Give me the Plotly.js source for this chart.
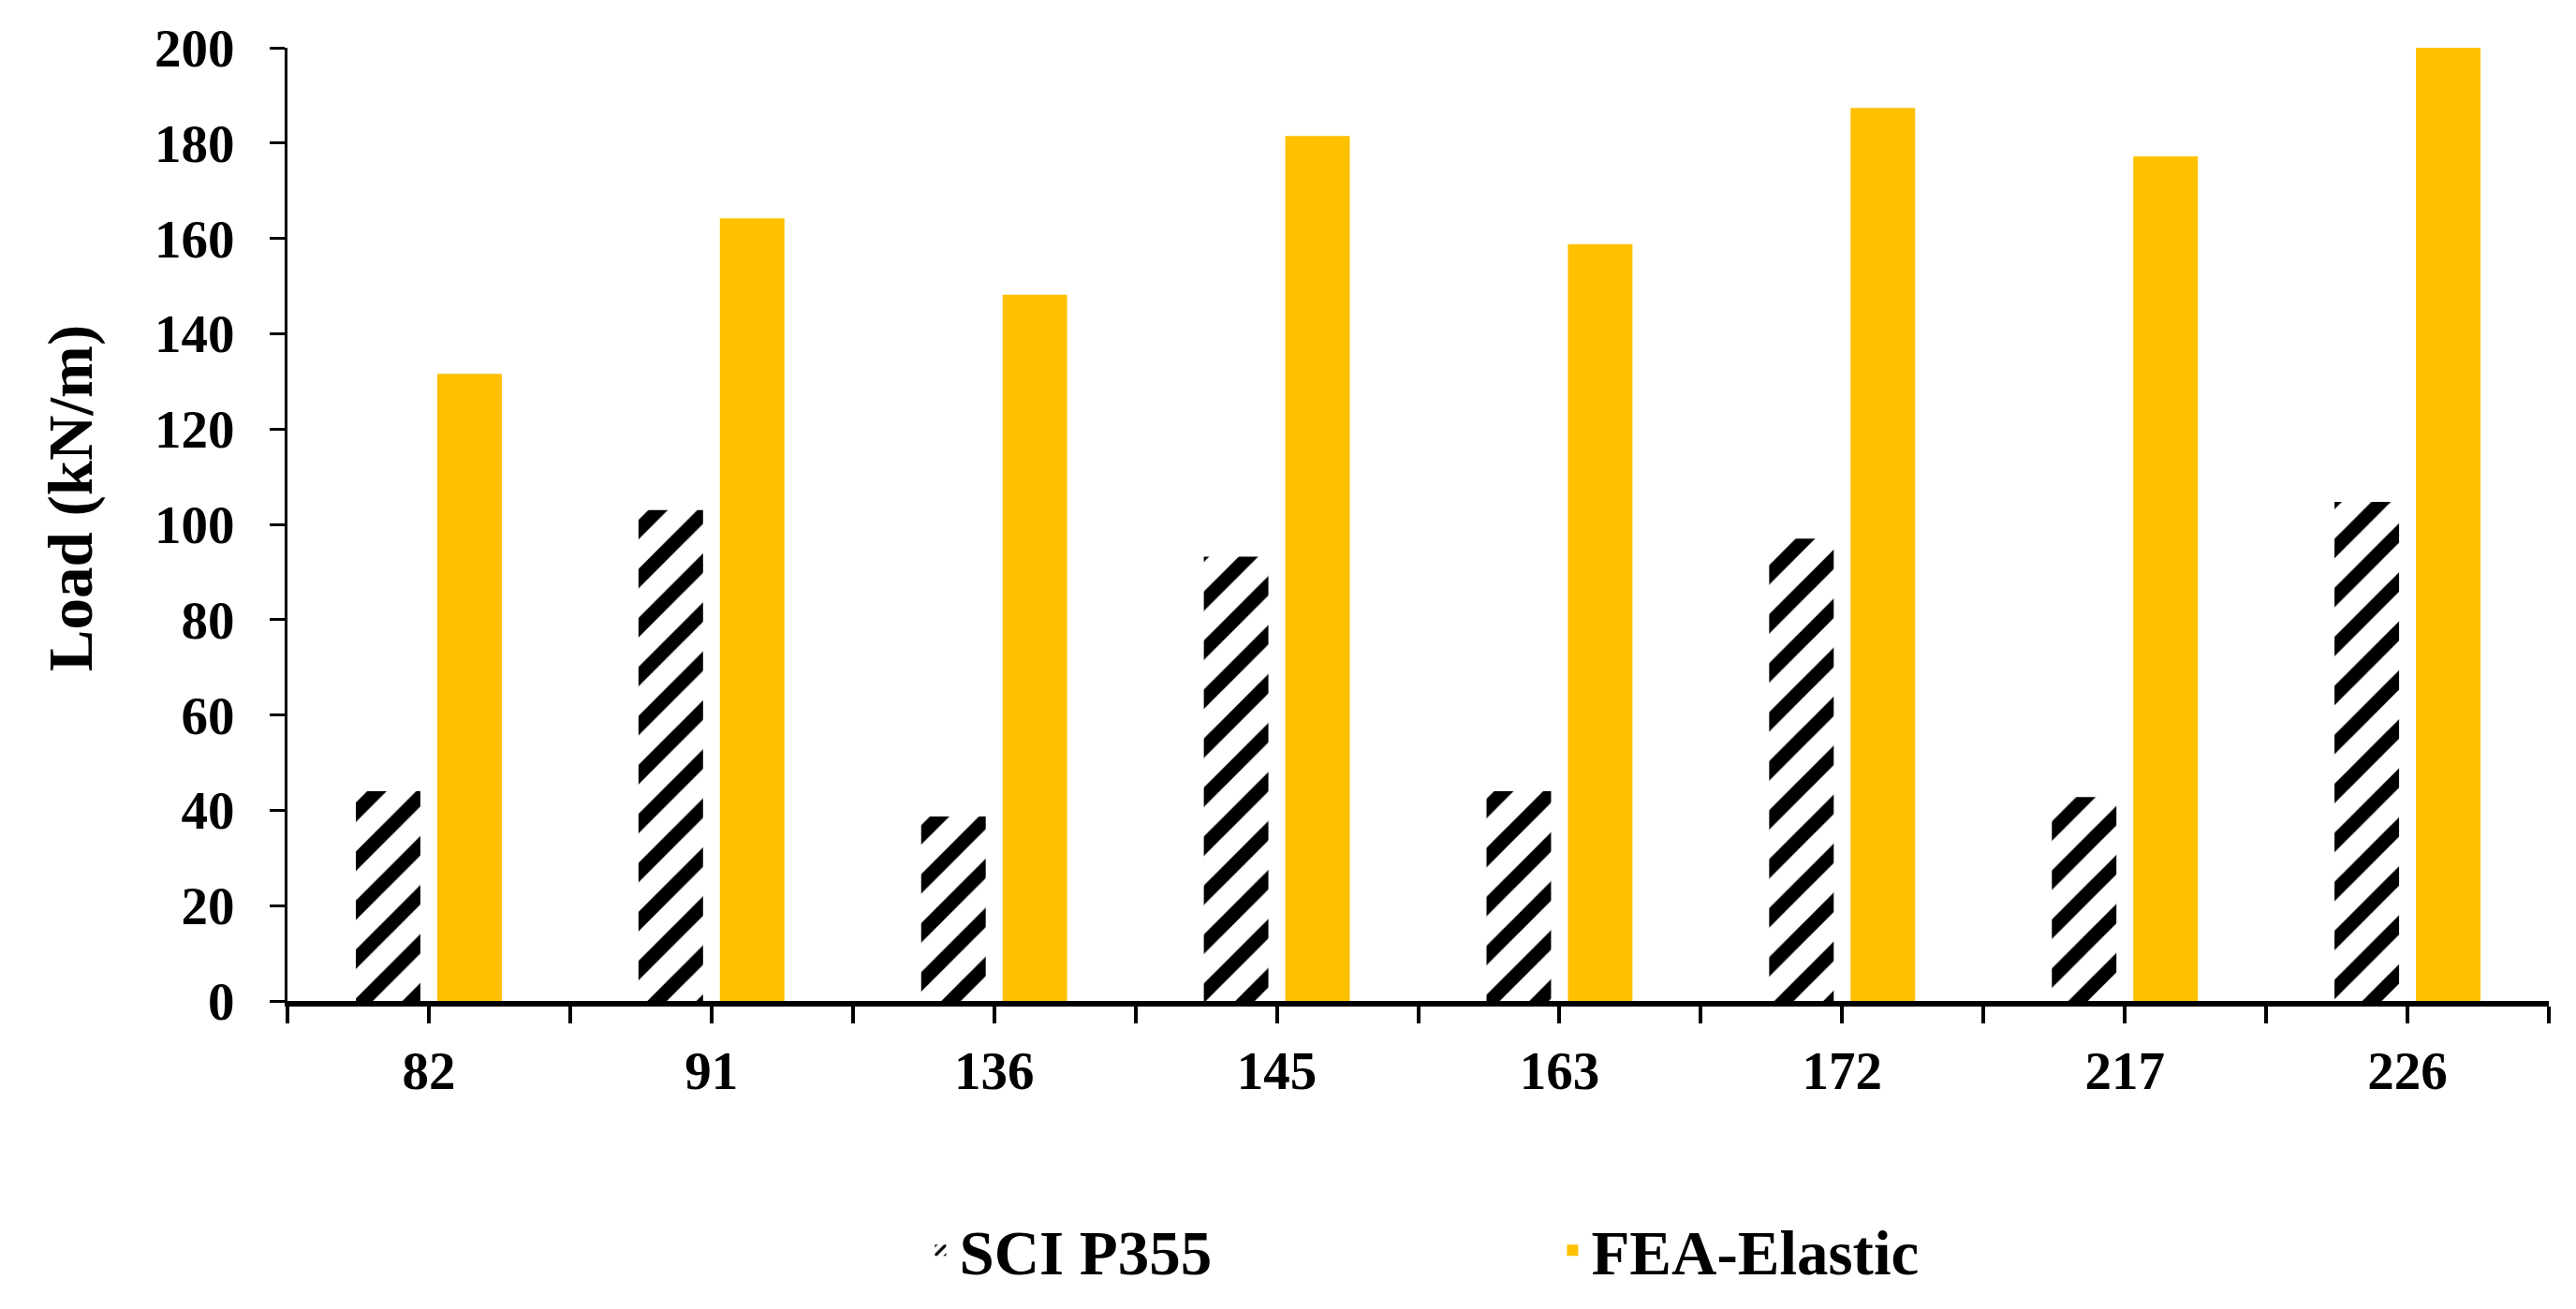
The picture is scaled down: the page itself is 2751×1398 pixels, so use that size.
<!DOCTYPE html>
<html>
<head>
<meta charset="utf-8">
<script src="https://cdn.plot.ly/plotly-3.0.1.min.js"></script>
<style>html,body{margin:0;padding:0;background:#fff;}#chart{width:2751px;height:1398px;}</style>
</head>
<body>
<div id="chart"></div>
<script>
const categories = ["82", "91", "136", "145", "163", "172", "217", "226"];
const sciP355 = [44, 103, 38.7, 93.2, 44, 97, 42.8, 104.7];
const feaElastic = [131.6, 164.2, 148.2, 181.5, 158.8, 187.4, 177.2, 200.2];
const seriesNames = ["SCI P355", "FEA-Elastic"];
const yTicks = [0, 20, 40, 60, 80, 100, 120, 140, 160, 180, 200];
const yTitle = "Load (kN/m)";

const FONT = "'Liberation Serif', 'Times New Roman', serif";

// ticks at every category centre (labelled) and every category boundary (unlabelled)
const xTickVals = [];
const xTickText = [];
categories.forEach((c, i) => {
  xTickVals.push(i - 0.5); xTickText.push("");
  xTickVals.push(i); xTickText.push(c);
});
xTickVals.push(categories.length - 0.5); xTickText.push("");

const traces = [
  {
    type: "bar", name: seriesNames[0], x: categories, y: sciP355,
    marker: {
      color: "#ffffff",
      line: {width: 0},
      pattern: {shape: "/", fgcolor: "#000000", bgcolor: "#ffffff", size: 37, solidity: 0.4}
    },
    hoverinfo: "x+y"
  },
  {
    type: "bar", name: seriesNames[1], x: categories, y: feaElastic,
    marker: {color: "#FFC000", line: {width: 0}},
    hoverinfo: "x+y"
  }
];

const layout = {
  width: 2751, height: 1398,
  paper_bgcolor: "#ffffff", plot_bgcolor: "#ffffff",
  margin: {l: 307, r: 29, t: 51, b: 329, pad: 0},
  barmode: "group", bargap: 0.424, bargroupgap: 0.207,
  font: {family: FONT, color: "#000000", size: 57, weight: "bold"},
  showlegend: true,
  legend: {
    orientation: "h", x: 0.56, xanchor: "center", y: -0.262, yanchor: "middle",
    font: {family: FONT, size: 67, color: "#000000", weight: "bold"},
    entrywidth: 630, entrywidthmode: "pixels", bgcolor: "rgba(0,0,0,0)"
  },
  xaxis: {
    type: "category", range: [-0.5, categories.length - 0.5],
    tickmode: "array", tickvals: xTickVals, ticktext: xTickText,
    showline: true, linecolor: "#000000", linewidth: 6,
    ticks: "outside", ticklen: 18, tickwidth: 4, tickcolor: "#000000",
    ticklabelstandoff: 2,
    tickfont: {family: FONT, size: 57, color: "#000000", weight: "bold"},
    showgrid: false, zeroline: false, fixedrange: true
  },
  yaxis: {
    range: [0, 200], tickmode: "array", tickvals: yTicks,
    showline: true, linecolor: "#000000", linewidth: 3,
    ticks: "outside", ticklen: 16, tickwidth: 3, tickcolor: "#000000",
    ticklabelstandoff: 26,
    tickfont: {family: FONT, size: 57, color: "#000000", weight: "bold"},
    showgrid: false, zeroline: false, fixedrange: true
  },
  annotations: [{
    text: yTitle, textangle: -90, showarrow: false,
    xref: "paper", yref: "paper", x: -0.096, y: 0.5275,
    xanchor: "center", yanchor: "middle",
    font: {family: FONT, size: 67, color: "#000000", weight: "bold"}
  }]
};

Plotly.newPlot("chart", traces, layout, {displayModeBar: false, staticPlot: true});
</script>
</body>
</html>
